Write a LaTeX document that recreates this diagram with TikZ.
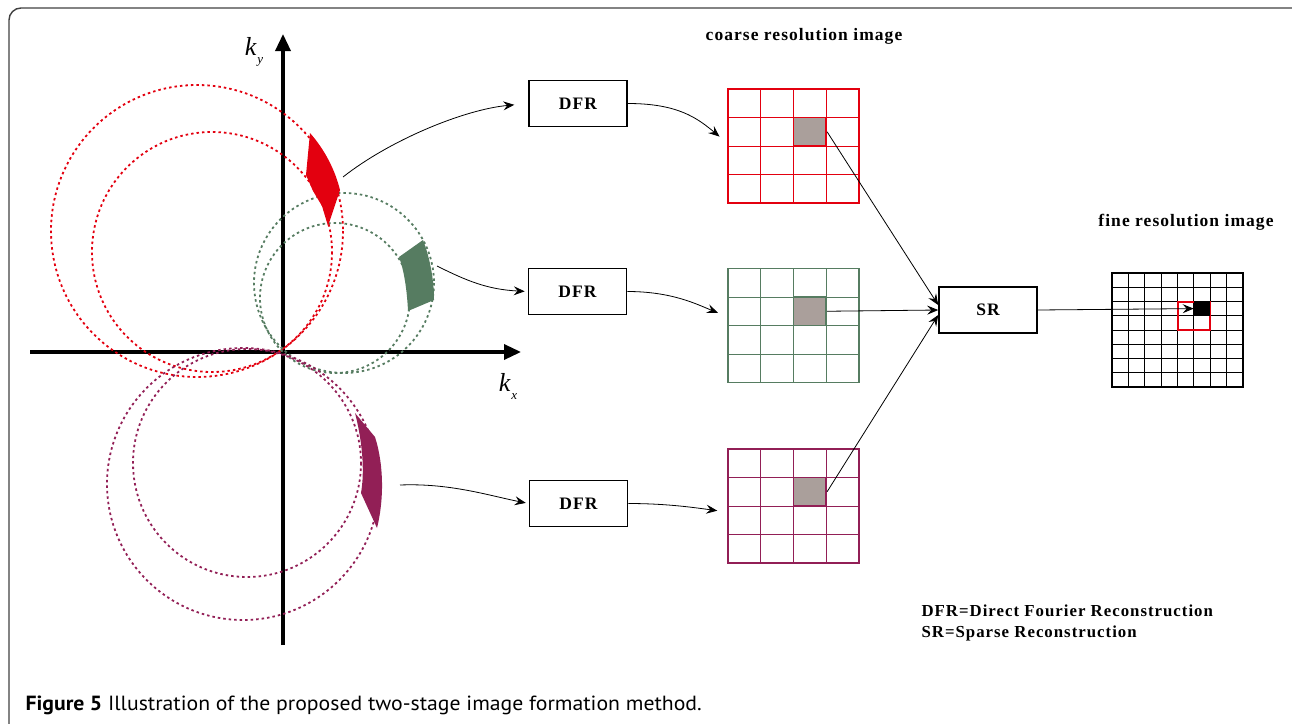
\documentclass[tikz,border=0pt]{standalone}
\usepackage{fontspec}
\setmainfont{Liberation Serif}
\newfontfamily\capfont[FakeStretch=1.06]{PT Sans}
\usetikzlibrary{arrows.meta}

\definecolor{redc}{HTML}{E3000F}
\definecolor{greenc}{HTML}{567C61}
\definecolor{purplec}{HTML}{921F56}
\definecolor{cellgray}{HTML}{AA9F9B}

\begin{document}
\begin{tikzpicture}[
    x=1pt, y=-1pt,
    lbl/.style={font=\fontsize{17.5}{17.5}\selectfont\bfseries\addfontfeatures{LetterSpace=6}},
    box/.style={rectangle, draw, line width=1.6pt, minimum width=98pt, minimum height=46pt, lbl},
    axis/.style={line width=3.4pt, -{Triangle[length=17pt, width=15pt]}},
    ring/.style={line width=1.8pt, dash pattern=on 2.5pt off 3pt},
    link/.style={line width=0.8pt, -{Stealth[length=11pt, width=9pt, inset=4pt]}},
    coarse/.style={rectangle, draw, line width=1.6pt, minimum width=131pt, minimum height=114pt, inner sep=0pt},
    cell/.style={rectangle, draw, line width=1.6pt, fill=cellgray, minimum width=32.75pt, minimum height=28.5pt, inner sep=0pt}
]
    \useasboundingbox (0,0) rectangle (1292,723);
    \draw[black!75, line width=1.4pt, rounded corners=12pt] (9,8) rectangle (1305,736);

    % k-space axes
    \coordinate (o) at (283,352);
    \draw[axis] (30,352) -- (521,352);
    \draw[axis] (283,645) -- (283,34);
    \node (ky) at (254,52) {\fontsize{26}{26}\selectfont\itshape k\hspace{1pt}\raisebox{-8pt}{\fontsize{13}{13}\selectfont y}};
    \node (kx) at (508,386) {\fontsize{26}{26}\selectfont\itshape k\hspace{1pt}\raisebox{-8pt}{\fontsize{13}{13}\selectfont x}};

    % sub-aperture rings
    \draw[ring, redc] (197,231) circle (146);
    \draw[ring, redc] (212,252) circle (120);
    \draw[ring, greenc] (344,283) circle (90);
    \draw[ring, greenc] (335,298) circle (75);
    \draw[ring, purplec] (243,484) circle (136);
    \draw[ring, purplec] (247,463) circle (114);

    \fill[redc] (310,133) .. controls (325,150) and (335,170) .. (340,190) -- (328,226) -- (322,206) -- (313,191) -- (306,175) -- cycle;
    \fill[greenc] (423,240) .. controls (430,258) and (434,280) .. (434,300) -- (408,311) .. controls (407,290) and (404,270) .. (399,257) -- cycle;
    \fill[purplec] (355,413) -- (375,437) .. controls (384,465) and (384,500) .. (377,528) -- (361,493) .. controls (365,470) and (362,440) .. (355,413) -- cycle;

    \coordinate (pr) at (343,177);
    \coordinate (pg) at (437,266);
    \coordinate (pp) at (400,485);

    % first stage
    \node[box] (dfr1) at (578,103.5) {DFR};
    \node[box] (dfr2) at (577.5,291.5) {DFR};
    \node[box] (dfr3) at (578.5,503.5) {DFR};

    \draw[link, shorten >=14pt] (pr) .. controls +(47,-37) and +(-64,6) .. (dfr1.west);
    \draw[link, shorten >=3pt] (pg) .. controls +(30,15) and +(-40,-2) .. (dfr2.west);
    \draw[link, shorten >=3pt] (pp) .. controls +(50,-2) and +(-40,-8) .. (dfr3.west);

    \node[lbl] (coarse) at (804,36) {coarse resolution image};
    \foreach \nm/\col/\yc in {r/redc/146, g/greenc/325.5, p/purplec/506} {
        \node[coarse, draw=\col] (img\nm) at (793.5,\yc) {};
        \foreach \i in {1,2,3} {
            \draw[\col, line width=0.9pt] (728+\i*32.75,\yc-57) -- (728+\i*32.75,\yc+57);
            \draw[\col, line width=0.9pt] (728,\yc-57+\i*28.5) -- (859,\yc-57+\i*28.5);
        }
        \node[cell, draw=\col] (cell\nm) at (809.9,\yc-14.25) {};
    }

    \draw[link, shorten >=10pt] (dfr1.east) .. controls +(50,0) and +(-30,-25) .. ([yshift=3pt]imgr.west);
    \draw[link, shorten >=10pt] (dfr2.east) .. controls +(45,0) and +(-30,-12) .. ([yshift=9pt]imgg.west);
    \draw[link, shorten >=10pt] (dfr3.east) .. controls +(40,0) and +(-30,-4) .. ([yshift=-6pt]imgp.west);

    % second stage
    \node[box] (sr) at (988,310) {SR};
    \draw[link] (cellr.east) -- ([yshift=5pt]sr.west);
    \draw[link] (cellg.east) -- (sr.west);
    \draw[link] (cellp.east) -- ([yshift=-5pt]sr.west);

    \node[lbl] (fine) at (1186,222) {fine resolution image};
    \node[coarse] (img) at (1177.5,330) {};
    \foreach \i in {1,...,7} {
        \draw[line width=0.9pt] (1112+\i*16.375,273) -- (1112+\i*16.375,387);
        \draw[line width=0.9pt] (1112,273+\i*14.25) -- (1243,273+\i*14.25);
    }
    \node[rectangle, draw=redc, line width=2pt, minimum width=32.75pt, minimum height=28.5pt, inner sep=0pt] (patch) at (1193.9,315.75) {};
    \node[rectangle, fill=black, minimum width=16.4pt, minimum height=14.3pt, inner sep=0pt] (blk) at (1202.1,308.6) {};
    \draw[link] (sr.east) -- (blk.west);

    \node[anchor=north west, align=left, font=\fontsize{16.8}{21}\selectfont\bfseries\addfontfeatures{LetterSpace=6}] (legend) at (918,601) {DFR=Direct Fourier Reconstruction\\SR=Sparse Reconstruction};

    \node[anchor=base west, font=\capfont\fontsize{20.5}{20.5}\selectfont] (cap) at (22,710) {\textbf{Figure 5} Illustration of the proposed two-stage image formation method.};
\end{tikzpicture}
\end{document}
